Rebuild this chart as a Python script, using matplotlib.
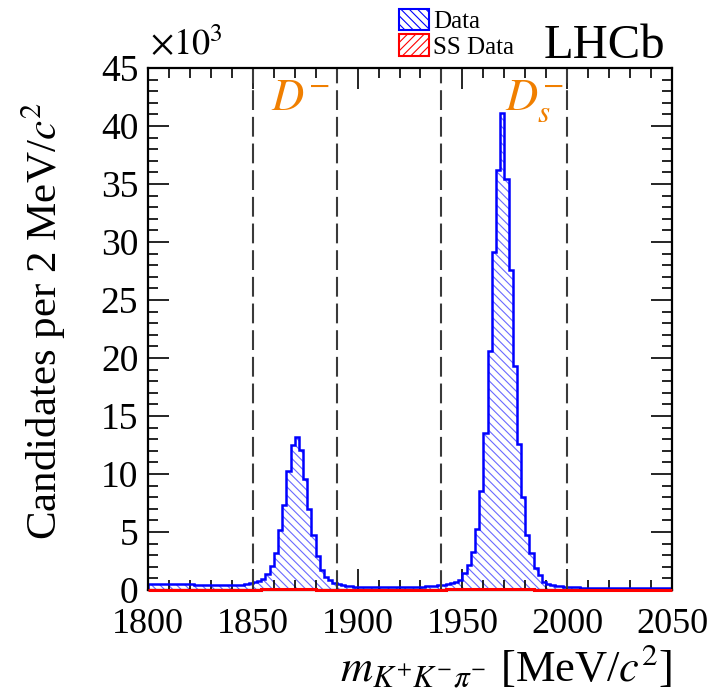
import matplotlib
matplotlib.use("Agg")
import matplotlib.pyplot as plt
from matplotlib.patches import Patch
from matplotlib.ticker import MultipleLocator, FuncFormatter
import numpy as np

plt.rcParams['font.family'] = ['Liberation Serif', 'DejaVu Serif']
plt.rcParams['mathtext.fontset'] = 'stix'
plt.rcParams['hatch.linewidth'] = 0.8

# 2 MeV bins from 1800 to 2050
bin_edges = np.arange(1800, 2051, 2)

# candidates per bin, Data (K+K-pi- mass)
data_counts = [
    # 1800-1850
    520, 512, 506, 500, 498, 494, 490, 488, 485, 481, 479, 475, 471, 469, 465,
    461, 459, 456, 454, 451, 450, 455, 470, 510, 580,
    # 1850-1890 (D-)
    650, 760, 980, 1400, 2050, 3200, 5200, 7300, 10300, 12500,
    13200, 12100, 9600, 7000, 4700, 2900, 1750, 1150, 860, 630,
    # 1890-1940
    480, 400, 350, 320, 300, 290, 280, 275, 270, 265, 262, 260, 257, 255, 252,
    250, 255, 260, 265, 275, 290, 310, 340, 380, 420,
    # 1940-2000 (Ds-)
    470, 530, 600, 700, 850, 1450, 2150, 3300, 5300, 8500,
    13500, 20600, 29100, 36200, 41100, 35400, 27600, 19300, 12600, 8000,
    4700, 3200, 1870, 1290, 720, 550, 450, 380, 330, 290,
    # 2000-2050
    260, 240, 225, 215, 205, 200, 195, 190, 185, 180, 178, 175, 172, 170, 168,
    165, 163, 160, 158, 156, 155, 153, 151, 150, 148,
]

# same-sign data
ss_counts = [
    # 1800-1850
    42, 41, 41, 40, 40, 39, 39, 38, 38, 38, 37, 37, 36, 36, 36,
    35, 35, 35, 34, 34, 34, 35, 36, 38, 40,
    # 1850-1890
    42, 44, 47, 50, 53, 56, 58, 60, 61, 60, 58, 56, 53, 50, 47, 44, 42, 40, 38, 37,
    # 1890-1950
    36, 35, 35, 34, 34, 34, 33, 33, 33, 33, 33, 34, 34, 35, 36,
    37, 38, 39, 40, 40, 41, 41, 42, 42, 43, 44, 45, 46, 47, 48,
    # 1950-1990
    50, 55, 62, 75, 90, 105, 115, 120, 122, 120, 115, 105, 90, 75, 62, 55, 48, 44, 41, 38,
    # 1990-2050
    36, 35, 34, 33, 32, 32, 31, 31, 30, 30, 30, 29, 29, 29, 28,
    28, 28, 28, 27, 27, 27, 27, 26, 26, 26, 26, 26, 25, 25, 25,
]

window_lines = [1850, 1890, 1940, 2000]

centers = 0.5 * (bin_edges[:-1] + bin_edges[1:])

fig = plt.figure(figsize=(7.23, 6.93), dpi=100)
ax = fig.add_axes([0.2047, 0.1486, 0.7248, 0.7533])

# Data: hatch then outline
ax.hist(centers, bins=bin_edges, weights=data_counts, histtype='stepfilled',
        facecolor='none', edgecolor='#6a6aff', hatch='\\\\\\\\', linewidth=0)
ax.hist(centers, bins=bin_edges, weights=data_counts, histtype='step',
        color='blue', linewidth=1.8)
# SS data
ax.hist(centers, bins=bin_edges, weights=ss_counts, histtype='stepfilled',
        facecolor='none', edgecolor='#ff6a6a', hatch='////', linewidth=0, zorder=3)
_, _, ss_line = ax.hist(centers, bins=bin_edges, weights=ss_counts, histtype='step',
                        color='red', linewidth=2.2, zorder=3)
for p in ss_line:
    p.set_clip_on(False)

for xv in window_lines:
    ax.axvline(xv, color='#3a3a3a', linewidth=1.5, linestyle=(0, (9.5, 3.3)))

ax.set_xlim(1800, 2050)
ax.set_ylim(0, 45000)

ax.xaxis.set_major_locator(MultipleLocator(50))
ax.xaxis.set_minor_locator(MultipleLocator(10))
ax.yaxis.set_major_locator(MultipleLocator(5000))
ax.yaxis.set_minor_locator(MultipleLocator(1000))
ax.yaxis.set_major_formatter(FuncFormatter(lambda v, p: f"{v/1000:g}"))

ax.tick_params(which='both', direction='in', top=True, right=True,
               labelsize=27, width=1.2)
ax.tick_params(axis='x', pad=13, labelsize=26)
ax.tick_params(axis='y', pad=7)
ax.tick_params(which='major', length=15)
ax.tick_params(which='minor', length=7)
for s in ax.spines.values():
    s.set_linewidth(1.6)

ax.set_xlabel(r"$m_{K^{+}K^{-}\pi^{-}}$ [MeV/$c^{2}$]", fontsize=32,
              loc='right', labelpad=1)
ax.set_ylabel(r"Candidates per 2 MeV/$c^{2}$", fontsize=31)
ax.yaxis.set_label_coords(-0.152, 0.515)

ax.text(0.003, 1.01, r"$\times10^{3}$", transform=ax.transAxes,
        fontsize=26, ha='left', va='bottom')

orange = '#f07f00'
ax.text(1858.5, 41400, r"$D^{-}$", color=orange, fontsize=32, ha='left', va='baseline')
ax.text(1970.5, 41400, r"$D_{s}^{-}$", color=orange, fontsize=32, ha='left', va='baseline')

fig.text(665 / 723, 1 - 58 / 693, "LHCb", fontsize=35, ha='right', va='baseline')

handles = [
    Patch(facecolor='none', edgecolor='blue', hatch='\\\\\\\\', linewidth=1.5, label='Data'),
    Patch(facecolor='none', edgecolor='red', hatch='////', linewidth=1.5, label='SS Data'),
]
fig.legend(handles=handles, loc='upper left', bbox_to_anchor=(384 / 723, 1.009),
           frameon=False, fontsize=18, handlelength=1.2, handleheight=0.95,
           handletextpad=0.15, labelspacing=0.05, borderpad=0.1)

fig.savefig("out.png", dpi=100)
